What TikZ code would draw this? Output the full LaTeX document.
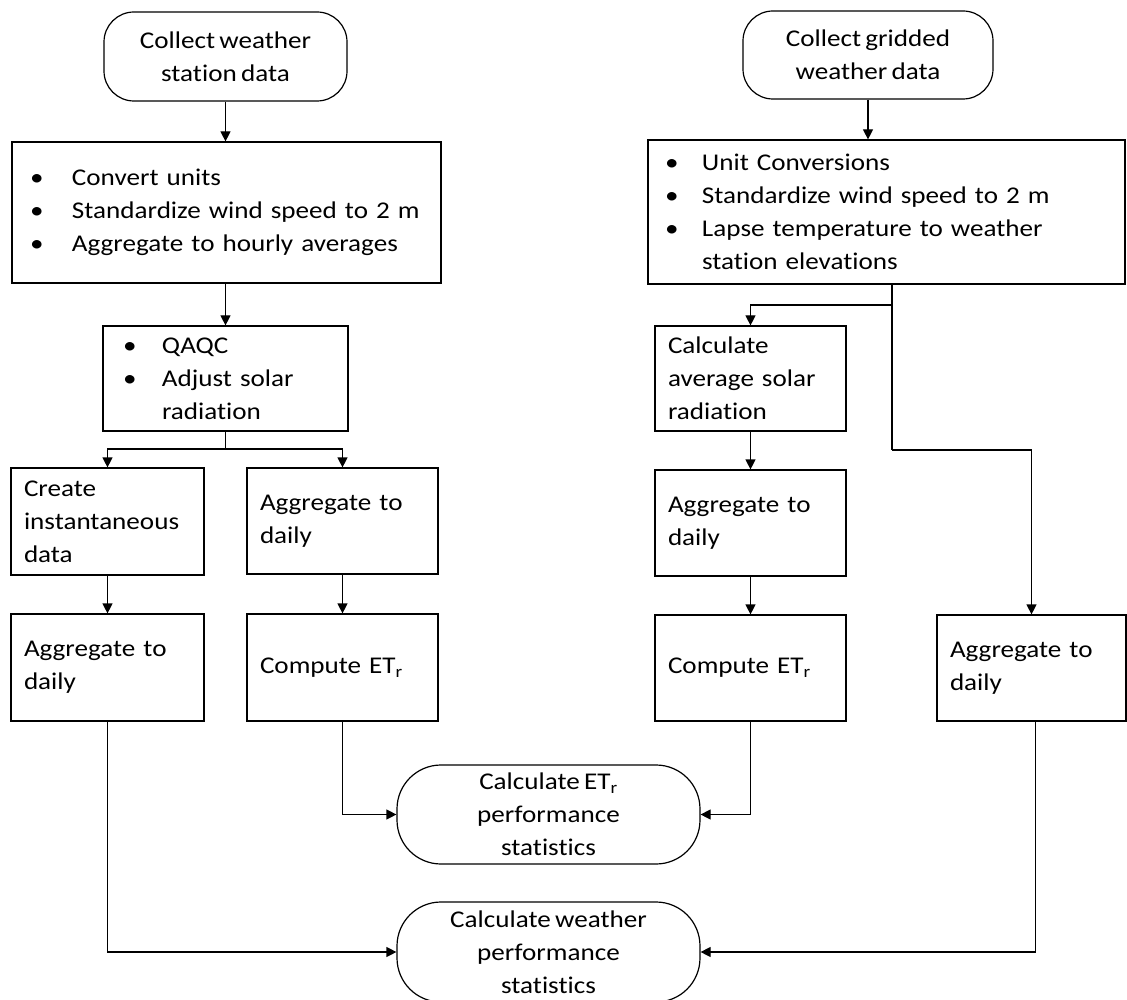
\documentclass[tikz,border=0pt]{standalone}
\usepackage{fontspec}
\setmainfont{Carlito}[FakeStretch=1.13, WordSpace=0.7, Ligatures=NoCommon]
\usetikzlibrary{arrows.meta}
\newcommand{\bul}[1][40pt]{\makebox[#1][l]{\textbullet}}

\begin{document}
\begin{tikzpicture}[x=1pt, y=-1pt,
    font=\fontsize{24}{33}\selectfont,
    terminal/.style={draw, line width=1.2pt, rounded corners=#1, align=center, inner sep=0pt},
    stepbox/.style={draw, line width=1.2pt, align=left, inner xsep=13pt, inner ysep=0pt},
    arr/.style={line width=1.2pt, -{Triangle[length=10pt,width=10pt]}},
    link/.style={line width=1.2pt}]
  \useasboundingbox (0,0) rectangle (1127,1000);

  % station branch
  \node[terminal=30pt, minimum width=243pt, minimum height=89pt] (tA) at (225.5,56.5) {Collect weather\\station data};
  \node[stepbox, inner xsep=18pt, text width=393pt, minimum height=141pt] (b1) at (226.5,212.5)
    {\bul[42pt]Convert units\\\bul[42pt]Standardize wind speed to~2~m\\\bul[42pt]Aggregate to hourly averages};
  \node[stepbox, inner xsep=20pt, text width=205pt, minimum height=105pt] (qa) at (225.5,378.5)
    {\bul[39pt]QAQC\\\bul[39pt]Adjust solar\\\hspace*{39pt}radiation};
  \node[stepbox, text width=167pt, minimum height=107pt] (ci) at (107.5,521.5) {Create\\instantaneous\\data};
  \node[stepbox, text width=165pt, minimum height=106pt] (ad1) at (342.5,521) {Aggregate to\\daily};
  \node[stepbox, text width=167pt, minimum height=107pt] (ad2) at (107.5,667.5) {Aggregate to\\daily};
  \node[stepbox, text width=165pt, minimum height=107pt] (et1) at (342.5,667.5) {Compute ET\textsubscript{r}};

  % gridded branch
  \node[terminal=30pt, minimum width=250pt, minimum height=88pt] (tB) at (868,55) {Collect gridded\\weather data};
  \node[stepbox, inner xsep=17pt, text width=443pt, minimum height=144pt] (b2) at (886.5,212)
    {\bul[37pt]Unit Conversions\\\bul[37pt]Standardize wind speed to~2~m\\\bul[37pt]Lapse temperature to weather\\\hspace*{37pt}station elevations};
  \node[stepbox, text width=165pt, minimum height=105pt] (cs) at (750.5,378.5) {Calculate\\average solar\\radiation};
  \node[stepbox, text width=165pt, minimum height=106pt] (ad3) at (750.5,523) {Aggregate to\\daily};
  \node[stepbox, text width=165pt, minimum height=106pt] (et2) at (750.5,668) {Compute ET\textsubscript{r}};
  \node[stepbox, text width=163pt, minimum height=106pt] (ad4) at (1031.5,668) {Aggregate to\\daily};

  % statistics
  \node[terminal=44pt, minimum width=303pt, minimum height=99pt] (tC) at (548.5,814.5) {Calculate ET\textsubscript{r}\\performance\\statistics};
  \node[terminal=44pt, minimum width=303pt, minimum height=100pt] (tD) at (548.5,952) {Calculate weather\\performance\\statistics};

  \coordinate (qsplit) at (225.5,449);
  \coordinate (gsplit) at (892,305);
  \coordinate (gbend) at (892,450);

  \draw[arr] (tA.south) -- (tA.south |- b1.north);
  \draw[arr] (qa.north |- b1.south) -- (qa.north);
  \draw[link] (qa.south) -- (qsplit);
  \draw[arr] (qsplit) -| (ci.north);
  \draw[arr] (qsplit) -| (ad1.north);
  \draw[arr] (ci) -- (ad2);
  \draw[arr] (ad1) -- (et1);

  \draw[arr] (tB.south) -- (tB.south |- b2.north);
  \draw[link] (b2.south -| gsplit) -- (gbend);
  \draw[arr] (gsplit) -| (cs.north);
  \draw[arr] (gbend) -| (ad4.north);
  \draw[arr] (cs) -- (ad3);
  \draw[arr] (ad3) -- (et2);

  \draw[arr] (et1.south) |- (tC.west);
  \draw[arr] (et2.south) |- (tC.east);
  \draw[arr] (ad2.south) |- (tD.west);
  \draw[arr] ([xshift=4pt]ad4.south) |- (tD.east);
\end{tikzpicture}
\end{document}
